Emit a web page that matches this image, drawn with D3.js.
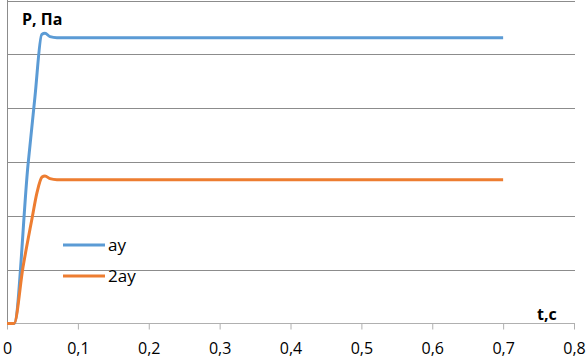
<!DOCTYPE html>
<html>
<head>
<meta charset="utf-8">
<script src="https://cdn.jsdelivr.net/npm/d3@7"></script>
<style>
  body { margin: 0; background: #fff; }
  svg { display: block; font-family: "Open Sans", "Liberation Sans", sans-serif; }
</style>
</head>
<body>
<div id="chart"></div>
<script>
// time, s
var tA = [0, 0.0099, 0.0296, 0.0395, 0.049, 0.0536, 0.0607, 0.0705, 0.7];
var vA = [0, 0, 2.94, 4.22, 5.37, 5.39, 5.33, 5.31, 5.31];
var tB = [0, 0.0099, 0.0226, 0.0353, 0.0423, 0.0494, 0.0536, 0.0607, 0.0705, 0.7];
var vB = [0, 0, 1.05, 1.95, 2.43, 2.72, 2.74, 2.69, 2.67, 2.67];
var seriesNames = ["ay", "2ay"];
var colors = ["#5b9bd5", "#ed7d31"];
var xTicks = [0, 0.1, 0.2, 0.3, 0.4, 0.5, 0.6, 0.7, 0.8];
var yGrid = [0, 1, 2, 3, 4, 5, 6];

var w = 587, h = 360;
var svg = d3.select("#chart").append("svg").attr("width", w).attr("height", h);

var x = d3.scaleLinear().domain([0, 0.8]).range([7, 574]);
var y = d3.scaleLinear().domain([0, 6]).range([323.5, 0.5]);

// grid
svg.append("g").selectAll("line").data(yGrid.slice(1)).enter().append("line")
  .attr("x1", 7).attr("x2", 575)
  .attr("y1", d => Math.round(y(d)) + 0.5).attr("y2", d => Math.round(y(d)) + 0.5)
  .attr("stroke", "#8c8c8c").attr("stroke-width", 1);

// y axis line
svg.append("line").attr("x1", 7.5).attr("x2", 7.5).attr("y1", 0).attr("y2", 324)
  .attr("stroke", "#8c8c8c");

// x axis
var xAxis = d3.axisBottom(x).tickValues(xTicks).tickSize(6).tickPadding(13)
  .tickFormat(d => d3.format(".1f")(d).replace(".", ",").replace(/^0,0$/, "0"));
var gx = svg.append("g").attr("transform", "translate(0," + 323.5 + ")").call(xAxis);
gx.select(".domain").attr("stroke", "#b0b0b0").attr("d", "M7,0H575");
gx.selectAll(".tick line").attr("stroke", "#b0b0b0");
gx.selectAll(".tick text").attr("font-size", 16).attr("fill", "#000")
  .attr("font-family", "Open Sans, Liberation Sans, sans-serif");

var line = d3.line().x(d => x(d[0])).y(d => y(d[1])).curve(d3.curveMonotoneX);
var data = [d3.zip(tA, vA), d3.zip(tB, vB)];

svg.append("g").selectAll("path").data(data).enter().append("path")
  .attr("d", line).attr("fill", "none")
  .attr("stroke", (d, i) => colors[i]).attr("stroke-width", 3)
  .attr("stroke-linejoin", "round");

// legend
var lg = svg.append("g").selectAll("g").data(seriesNames).enter().append("g")
  .attr("transform", (d, i) => "translate(63," + (245 + i * 31) + ")");
lg.append("line").attr("x1", 0).attr("x2", 42)
  .attr("stroke", (d, i) => colors[i]).attr("stroke-width", 3);
lg.append("text").attr("x", 45).attr("y", 6).attr("font-size", 17).text(d => d);

// axis titles
svg.append("text").attr("x", 22).attr("y", 25).attr("font-size", 16)
  .attr("font-weight", "bold").text("P, Па");
svg.append("text").attr("x", 537).attr("y", 320).attr("font-size", 16)
  .attr("font-weight", "bold").text("t,c");
</script>
</body>
</html>
